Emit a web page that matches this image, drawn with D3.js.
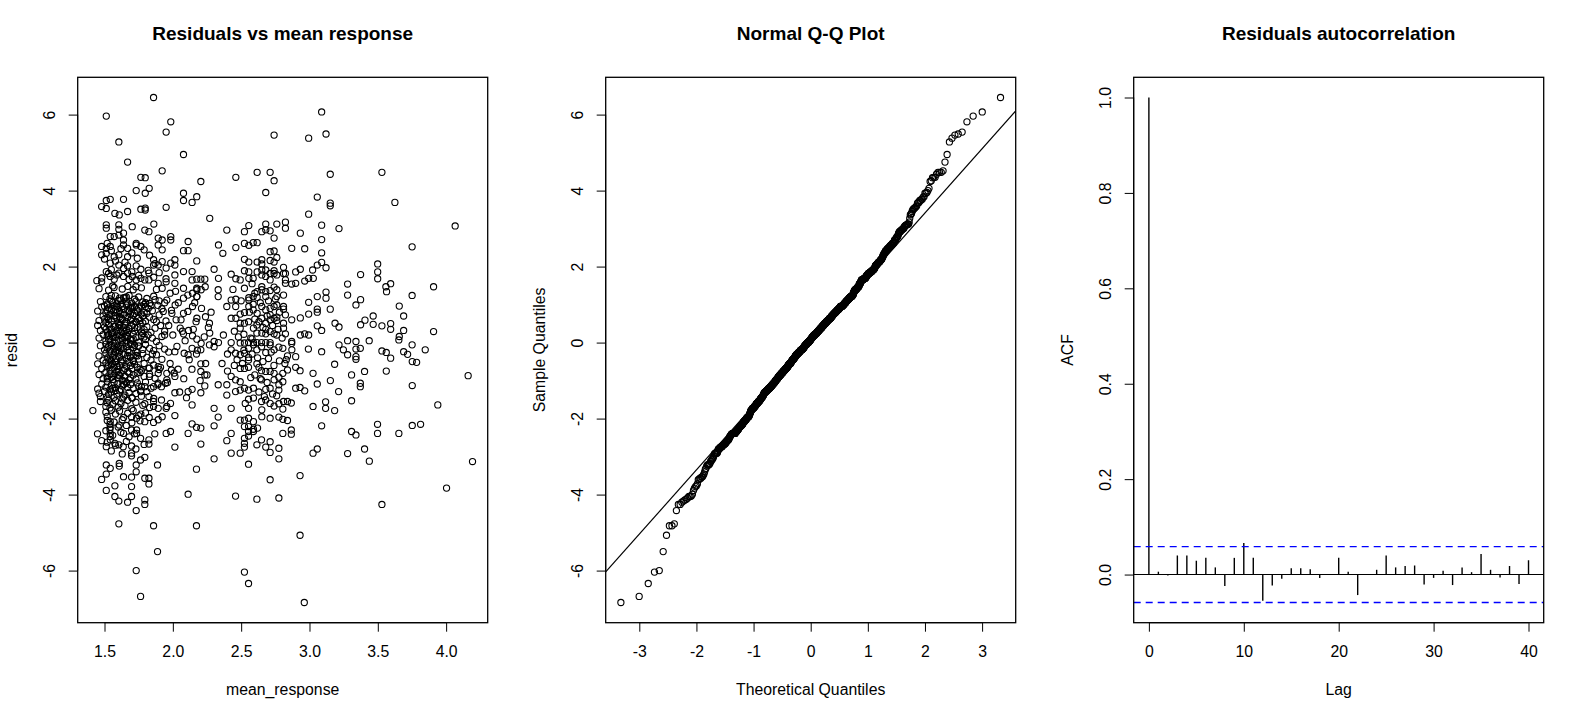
<!DOCTYPE html>
<html><head><meta charset="utf-8">
<script src="https://cdn.jsdelivr.net/npm/d3@7"></script>
<style>
body{margin:0;background:#fff}
svg{display:block}
text{font-family:"Liberation Sans",Arial,Helvetica,sans-serif;fill:#000}
</style>
</head><body>
<svg id="chart" width="1584" height="720"></svg>
<script>
// ---------------- DATA ----------------
// [mean_response, resid] pairs, read from the picture region by region
const ptsRightUpper = [[3.089,6.07],[2.994,5.38],[3.121,5.49],[3.152,4.43],[3.530,4.48],[3.057,3.83],[3.152,3.67],[3.152,3.60],[3.625,3.69],[2.994,3.38],
[3.089,3.09],[3.216,3.00],[4.066,3.07],[2.933,2.88],[3.089,2.71],[3.751,2.52],[2.870,2.48],[2.965,2.47],[3.089,2.36],[3.499,2.07],
[3.499,1.86],[3.499,1.68],[3.374,1.79],[3.089,2.11],[3.057,2.04],[3.121,1.97],[3.023,1.91],[2.994,1.69],[2.965,1.62],[2.899,1.86],
[2.933,1.93],[2.870,1.54],[2.899,1.56],[3.028,1.69],[3.279,1.54],[3.594,1.55],[3.559,1.47],[3.564,1.34],[3.908,1.47],[3.751,1.24],
[3.279,1.25],[3.374,1.13],[3.340,0.99],[3.121,1.33],[3.121,1.17],[3.057,1.21],[2.994,1.06],[3.152,0.88],[3.057,0.88],[3.057,0.80],
[2.994,0.75],[2.933,0.65],[2.870,0.60],[3.657,0.96],[3.689,0.70],[3.466,0.70],[3.466,0.48],[3.406,0.59],[3.374,0.47],[3.530,0.44],
[3.594,0.50],[3.594,0.35],[3.689,0.32],[3.657,0.16],[3.908,0.29],[3.187,0.51],[3.216,0.41],[3.089,0.32],[3.057,0.44],[2.994,0.20],
[2.965,0.23],[2.933,0.20],[2.870,0.03],[3.279,0.05],[3.340,0.03],[3.437,0.05],[3.216,-0.06],[3.751,-0.06]];

const ptsRightLower = [[2.870,-0.02],[3.654,0.07],[3.248,-0.19],[3.279,-0.32],[3.340,-0.17],[3.372,-0.15],[3.340,-0.37],[3.340,-0.44],[2.992,-0.17],[3.089,-0.24],
[3.530,-0.22],[3.562,-0.26],[3.594,-0.41],[3.689,-0.24],[3.718,-0.31],[3.752,-0.50],[3.784,-0.52],[3.847,-0.19],[4.161,-0.87],[3.562,-0.75],
[3.752,-1.13],[3.403,-0.76],[3.308,-0.85],[3.372,-1.07],[3.372,-1.16],[3.184,-0.57],[3.153,-1.00],[3.213,-1.29],[3.026,-0.81],[3.057,-1.09],
[2.965,-1.27],[2.931,-1.18],[2.899,-1.20],[2.899,-0.37],[2.931,-0.74],[2.899,-0.65],[3.308,-1.53],[3.118,-1.56],[3.118,-1.73],[3.184,-1.79],
[3.026,-1.68],[3.939,-1.64],[2.867,-1.59],[3.089,-2.19],[3.498,-2.15],[3.498,-2.39],[3.308,-2.34],[3.340,-2.43],[3.654,-2.39],[3.752,-2.18],
[3.813,-2.15],[2.867,-2.30],[2.867,-2.41],[3.057,-2.80],[3.026,-2.91],[3.279,-2.92],[3.403,-2.80],[3.438,-3.12],[4.193,-3.13],[2.931,-3.50],
[4.003,-3.83],[3.530,-4.26],[2.931,-5.07],[2.962,-6.84]];

const ptsMidUpper = [[2.461,4.35],[2.617,4.48],[2.712,4.48],[2.741,4.26],[2.741,5.46],[2.680,3.95],[2.761,3.12],[2.824,3.17],[2.824,3.01],[2.680,3.12],
[2.556,3.08],[2.524,2.92],[2.712,2.94],[2.680,2.97],[2.651,2.92],[2.741,2.75],[2.395,2.96],[2.334,2.57],[2.366,2.35],[2.461,2.50],
[2.524,2.61],[2.556,2.56],[2.588,2.63],[2.617,2.63],[2.712,2.39],[2.741,2.41],[2.761,2.24],[2.524,2.19],[2.556,2.12],[2.617,2.12],
[2.651,2.18],[2.651,2.07],[2.712,2.16],[2.741,2.12],[2.810,1.98],[2.302,1.93],[2.334,1.69],[2.427,1.80],[2.461,1.68],[2.493,1.65],
[2.524,1.89],[2.556,1.86],[2.556,1.69],[2.588,1.69],[2.617,1.86],[2.651,1.91],[2.651,1.78],[2.680,1.91],[2.680,1.74],[2.712,1.82],
[2.712,1.65],[2.741,1.89],[2.741,1.82],[2.761,1.78],[2.810,1.82],[2.824,1.82],[2.824,1.65],[2.824,1.56],[2.332,1.39],[2.332,1.21],
[2.395,0.95],[2.427,1.12],[2.461,1.14],[2.524,1.43],[2.556,1.18],[2.556,1.12],[2.588,1.21],[2.617,1.19],[2.617,1.34],[2.651,1.47],
[2.651,1.39],[2.680,1.34],[2.680,1.21],[2.712,1.37],[2.741,1.46],[2.761,1.39],[2.761,1.21],[2.810,1.25],[2.556,0.95],[2.588,1.01],
[2.588,0.86],[2.617,0.77],[2.651,0.95],[2.680,0.86],[2.712,0.90],[2.712,0.73],[2.741,0.95],[2.761,0.99],[2.810,0.95],[2.810,0.88],
[2.493,0.75],[2.524,0.79],[2.461,0.64],[2.427,0.64],[2.493,0.51],[2.493,0.38],[2.524,0.51],[2.554,0.55],[2.590,0.38],[2.615,0.46],
[2.651,0.64],[2.680,0.51],[2.712,0.60],[2.741,0.64],[2.761,0.58],[2.761,0.67],[2.810,0.51],[2.824,0.73],[2.741,0.23],[2.761,0.20],
[2.824,0.23],[2.810,0.38],[2.615,0.25],[2.651,0.25],[2.680,0.23],[2.712,0.29],
[2.427,0.00],[2.493,-0.01],[2.524,-0.01],[2.554,0.00],[2.590,0.00],[2.615,0.00],[2.649,0.00],[2.680,0.00],[2.712,0.00],[2.302,0.03],[2.334,0.00]];

const ptsMidLower = [[2.427,-0.19],[2.459,-0.28],[2.493,-0.32],[2.524,-0.28],[2.554,-0.15],[2.590,-0.06],[2.615,-0.19],[2.649,-0.11],[2.680,-0.26],[2.712,-0.06],
[2.741,-0.19],[2.776,-0.12],[2.805,-0.15],[2.839,-0.35],[2.871,-0.19],
[2.554,-0.39],[2.554,-0.46],[2.524,-0.68],[2.554,-0.65],[2.493,-0.68],
[2.615,-0.56],[2.649,-0.74],[2.680,-0.76],[2.712,-0.76],[2.741,-0.81],[2.776,-0.91],[2.805,-0.81],[2.839,-0.72],
[2.427,-0.89],[2.459,-0.98],[2.493,-1.03],[2.524,-1.20],[2.554,-1.25],[2.590,-1.20],[2.649,-0.98],[2.680,-1.23],[2.712,-1.20],[2.741,-0.98],[2.776,-1.11],[2.776,-1.25],[2.805,-1.03],
[2.332,-1.11],[2.395,-1.11],[2.395,-1.38],[2.459,-1.29],[2.493,-1.25],
[2.554,-1.49],[2.590,-1.46],[2.649,-1.55],[2.680,-1.51],[2.712,-1.60],[2.741,-1.67],[2.776,-1.61],[2.810,-1.55],[2.839,-1.55],
[2.427,-1.73],[2.554,-1.73],[2.651,-1.77],[2.651,-1.95],[2.712,-1.99],[2.776,-1.96],[2.805,-1.75],[2.805,-2.02],[2.839,-2.05],
[2.493,-2.04],[2.524,-2.04],[2.554,-1.99],[2.554,-2.21],[2.590,-2.08],[2.590,-2.28],[2.524,-2.21],[2.620,-2.25],[2.554,-2.34],
[2.302,-2.19],[2.302,-1.73],[2.332,-1.96],[2.427,-2.39],[2.395,-2.58],
[2.524,-2.52],[2.524,-2.65],[2.524,-2.75],[2.554,-2.46],[2.590,-2.34],
[2.649,-2.56],[2.680,-2.75],[2.712,-2.61],[2.712,-2.89],[2.776,-2.78],[2.805,-2.39],
[2.427,-2.91],[2.493,-2.91],[2.615,-2.69],[2.302,-3.06],[2.554,-3.20],[2.776,-3.06],[2.712,-3.61],
[2.459,-4.04],[2.615,-4.12],[2.776,-4.09],[2.524,-6.04],[2.554,-6.34]];

const ptsMidFill = [[2.45,0.30],[2.48,0.15],[2.52,0.22],[2.57,0.12],[2.60,0.62],[2.63,0.55],[2.66,0.40],[2.69,0.70],[2.73,0.45],[2.77,0.35],
[2.80,0.12],[2.56,0.80],[2.64,1.05],[2.70,1.10],[2.75,1.15],[2.60,1.30],[2.47,-0.45],[2.51,-0.55],[2.58,-0.30],[2.62,-0.40],
[2.66,-0.50],[2.70,-0.42],[2.74,-0.60],[2.78,-0.48],[2.82,-0.55],[2.60,-0.85],[2.64,-0.95],[2.69,-1.05],[2.73,-1.35],[2.63,-1.30],
[2.57,-0.92],[2.45,-0.60],[2.40,-0.30],[2.37,0.20],[2.44,1.40],[2.50,1.10],[2.58,1.55],[2.67,-1.42],[2.76,-1.40],[2.53,-1.60]];

const ptsLeftUpper = [[1.859,6.45],[1.513,5.96],[1.985,5.81],[1.951,5.54],[1.605,5.28],[1.669,4.75],[2.078,4.95],[1.922,4.52],[2.205,4.24],[1.766,4.35],
[1.798,4.34],[1.827,4.06],[1.798,3.93],[1.732,4.00],[1.542,3.77],[1.513,3.74],[1.639,3.77],[1.479,3.58],[1.513,3.53],[1.669,3.45],
[1.576,3.40],[1.608,3.36],[1.766,3.51],[1.798,3.54],[1.798,3.49],[1.951,3.56],[2.078,3.93],[2.078,3.74],[2.141,3.69],[2.175,3.84],[2.270,3.27],
[1.513,3.10],[1.513,3.01],[1.605,3.10],[1.605,2.98],[1.703,3.05],[1.861,3.12],[1.825,2.92],[1.795,2.96],
[1.639,2.88],[1.542,2.79],[1.571,2.79],[1.605,2.83],[1.639,2.70],
[1.479,2.53],[1.542,2.53],[1.513,2.48],[1.639,2.57],[1.669,2.48],[1.732,2.61],[1.766,2.53],[1.732,2.57],
[1.893,2.75],[1.922,2.70],[1.985,2.79],[1.985,2.70],[1.893,2.57],[1.922,2.44],
[2.112,2.66],[2.078,2.42],[2.112,2.42],[2.175,2.15],
[1.479,2.31],[1.513,2.35],[1.571,2.26],[1.605,2.31],[1.669,2.26],
[1.542,2.09],[1.605,2.04],[1.669,2.02],[1.732,2.02],[1.766,1.93],
[1.859,2.18],[1.922,2.13],[1.893,2.04],[1.951,1.96],[2.015,2.18],[2.015,2.04],[1.985,2.09],[1.859,2.04],
[2.078,1.87],[2.141,1.87],[2.175,1.67],[2.205,1.67],[2.234,1.67],
[1.444,1.63],[1.479,1.60],[1.513,1.87],[1.542,1.74],[1.571,1.67],[1.605,1.83],[1.639,1.74],[1.669,1.83],[1.703,1.74],[1.732,1.65],
[1.766,1.69],[1.795,1.65],[1.825,1.65],[1.825,1.83],[1.893,1.56],[1.951,1.60],[1.922,1.43],
[2.015,1.78],[2.015,1.56],[2.141,1.65],[2.175,1.43],[2.175,1.21],[2.078,1.43],[2.078,1.17],
[2.176,1.39],[2.176,1.21],[2.207,1.39],[2.237,1.47],[2.144,1.30],[2.110,0.82],[2.144,0.95],[2.078,0.77],[2.176,0.64],[2.239,0.68],
[2.268,0.51],[2.054,0.38],[2.078,0.23],[2.115,0.32],[2.144,0.18],[2.176,0.09],[2.207,-0.02],[2.024,0.60],[1.993,0.77],[2.017,0.99],
[1.956,1.12],[1.980,1.30]];

const ptsLeftLower = [[1.415,-1.79],[1.449,-2.40],
[1.479,-2.58],[1.513,-2.74],[1.542,-2.56],[1.576,-2.65],[1.605,-2.69],[1.637,-2.74],[1.698,-2.72],[1.698,-2.91],[1.698,-2.98],
[1.513,-3.22],[1.542,-3.31],[1.608,-3.18],[1.608,-3.25],[1.479,-3.60],[1.513,-3.46],[1.576,-3.77],[1.639,-3.53],[1.698,-3.54],[1.698,-3.79],
[1.732,-3.22],[1.764,-3.09],[1.795,-3.02],[1.732,-3.40],[1.825,-3.57],[1.825,-3.72],[1.795,-3.57],
[1.513,-3.89],[1.576,-4.05],[1.605,-4.17],[1.669,-4.20],[1.698,-4.05],[1.732,-4.42],[1.795,-4.14],[1.795,-4.26],
[1.605,-4.77],[1.859,-4.82],[2.173,-4.82],[1.888,-5.50],[1.732,-6.00],[1.764,-6.68],
[2.112,-3.99],[2.173,-3.33],[1.888,-3.22],[2.015,-2.75],[2.205,-2.67],
[1.868,-2.40],[1.951,-2.39],[1.983,-2.34],[2.112,-2.39],[2.141,-2.14],[2.173,-2.23],[2.205,-2.25],
[2.015,-1.92],[1.951,-1.73],[1.983,-1.60],[1.922,-1.95],[1.893,-2.03],[1.859,-2.10],[1.859,-1.68],[1.827,-1.97],[1.795,-2.08],[1.766,-1.88],[1.735,-1.99],[1.698,-1.96],
[1.825,-2.56],[1.825,-2.67],[1.764,-2.52],[1.698,-2.30],[1.735,-2.39],[1.735,-2.30],[1.639,-2.39],[1.608,-2.17],[1.542,-2.08],[1.542,-2.23],[1.542,-2.39],[1.542,-2.47],
[2.141,-1.64],[2.112,-1.29],[2.141,-1.23],[2.205,-1.32],[2.015,-1.32],[1.893,-1.73],[1.956,-1.68],[1.917,-1.51],[1.859,-1.55],[1.795,-1.61],[1.825,-1.42],[1.766,-1.25],[1.703,-1.46],
[2.205,-0.76],[2.205,-0.56],[2.234,-0.85],[2.234,-1.14],[2.173,-0.30],[2.205,-0.19],[2.141,-0.15],[2.112,-0.32],[2.015,-0.24],[2.083,-0.28],
[1.990,-0.72],[2.015,-0.89],[2.039,-0.70],[1.956,-0.81],[1.956,-0.98],[1.893,-0.63],[1.893,-0.81],[1.893,-1.07],[1.829,-0.67],[1.829,-0.89],
[1.795,-1.16],[1.764,-1.29],[1.859,-1.16],[1.917,-1.16],[1.946,-1.07],[2.268,-0.06],[2.302,-0.11]];

const ptsInnerFill = [[1.97,0.45],[2.00,0.20],[2.03,-0.10],[2.06,0.60],[2.09,0.05],[2.12,-0.45],[2.15,0.35],[2.18,-0.20],[2.21,0.90],[2.24,-0.55],
[2.27,0.25],[1.98,-0.55],[2.01,-0.80],[2.04,1.05],[2.08,-0.95],[2.11,1.25],[2.14,-0.70],[2.17,0.55],[2.20,-1.00],[2.23,0.15],
[1.96,-1.05],[1.99,0.85],[2.02,1.35],[2.05,-1.30],[2.10,-1.45],[2.16,1.05],[2.25,-0.85],[2.28,0.80],[1.97,-0.25],[2.07,0.30]];

const ptsDenseCore = [
[1.46,1.42],[1.50,0.96],[1.53,1.38],[1.55,0.88],[1.57,1.45],[1.59,1.02],[1.61,0.83],[1.63,1.41],[1.65,1.18],[1.67,1.48],[1.69,0.92],[1.71,1.39],[1.74,0.81],[1.77,1.44],[1.80,1.05],[1.84,0.97],[1.88,1.40],[1.92,0.89],[1.56,1.49],[1.62,1.12],[1.68,0.84],[1.73,1.47],[1.79,1.00],
[1.47,1.08],[1.51,1.21],[1.52,1.02],[1.54,1.15],[1.56,1.06],[1.58,1.23],[1.60,1.11],[1.62,1.01],[1.64,1.18],[1.66,1.09],[1.68,1.24],[1.70,1.04],[1.72,1.14],[1.75,1.20],[1.78,1.07],[1.81,1.16],[1.83,1.03],[1.86,1.22],[1.90,1.10],[1.94,1.05],[1.55,1.24],[1.61,1.17],[1.67,1.02],[1.73,1.09],[1.87,1.13],
[1.45,0.83],[1.48,0.94],[1.51,0.78],[1.53,0.91],[1.55,0.85],[1.57,0.97],[1.59,0.80],[1.60,0.92],[1.62,0.76],[1.64,0.88],[1.66,0.99],[1.68,0.81],[1.70,0.93],[1.72,0.77],[1.74,0.86],[1.77,0.96],[1.79,0.79],[1.82,0.90],[1.85,0.84],[1.89,0.98],[1.93,0.82],[1.52,0.99],[1.58,0.87],[1.63,0.95],[1.69,0.75],[1.75,0.91],[1.81,0.77],
[1.46,0.58],[1.49,0.70],[1.51,0.53],[1.52,0.66],[1.54,0.74],[1.55,0.57],[1.57,0.63],[1.58,0.71],[1.60,0.52],[1.61,0.68],[1.63,0.60],[1.64,0.73],[1.66,0.55],[1.67,0.66],[1.69,0.59],[1.71,0.72],[1.73,0.54],[1.75,0.64],[1.78,0.70],[1.80,0.56],[1.83,0.67],[1.86,0.61],[1.90,0.73],[1.95,0.57],[1.53,0.61],[1.59,0.65],[1.65,0.51],[1.70,0.62],[1.76,0.58],
[1.45,0.45],[1.47,0.32],[1.50,0.41],[1.52,0.28],[1.53,0.47],[1.55,0.36],[1.56,0.26],[1.58,0.43],[1.59,0.33],[1.61,0.48],[1.62,0.29],[1.64,0.39],[1.65,0.46],[1.67,0.27],[1.68,0.37],[1.70,0.44],[1.72,0.31],[1.74,0.40],[1.76,0.49],[1.79,0.34],[1.81,0.42],[1.84,0.27],[1.87,0.38],[1.91,0.45],[1.94,0.30],[1.54,0.35],[1.60,0.40],[1.66,0.33],[1.71,0.49],[1.77,0.28],
[1.46,0.12],[1.49,0.21],[1.51,0.05],[1.52,0.17],[1.54,0.10],[1.55,0.23],[1.57,0.02],[1.58,0.14],[1.60,0.07],[1.61,0.19],[1.63,0.11],[1.64,0.24],[1.66,0.04],[1.67,0.16],[1.69,0.09],[1.71,0.22],[1.73,0.13],[1.75,0.01],[1.77,0.18],[1.80,0.08],[1.82,0.20],[1.85,0.12],[1.88,0.03],[1.92,0.16],[1.53,0.08],[1.59,0.20],[1.65,0.13],[1.70,0.06],[1.78,0.24],[1.56,0.15],
[1.47,-0.08],[1.50,-0.19],[1.51,-0.04],[1.52,-0.14],[1.54,-0.22],[1.55,-0.07],[1.57,-0.17],[1.58,-0.02],[1.60,-0.12],[1.61,-0.24],[1.63,-0.06],[1.64,-0.16],[1.66,-0.10],[1.67,-0.21],[1.69,-0.03],[1.71,-0.13],[1.73,-0.23],[1.75,-0.09],[1.78,-0.18],[1.80,-0.05],[1.83,-0.15],[1.86,-0.21],[1.90,-0.08],[1.94,-0.17],[1.53,-0.11],[1.59,-0.20],[1.65,-0.01],[1.72,-0.07],[1.57,-0.09],
[1.46,-0.35],[1.49,-0.46],[1.51,-0.28],[1.52,-0.40],[1.54,-0.33],[1.55,-0.48],[1.57,-0.30],[1.58,-0.42],[1.60,-0.27],[1.61,-0.37],[1.63,-0.45],[1.64,-0.31],[1.66,-0.41],[1.68,-0.26],[1.69,-0.38],[1.71,-0.47],[1.73,-0.34],[1.75,-0.43],[1.78,-0.29],[1.81,-0.39],[1.84,-0.46],[1.88,-0.32],[1.92,-0.44],[1.56,-0.38],[1.62,-0.49],[1.67,-0.34],[1.74,-0.26],
[1.45,-0.56],[1.48,-0.68],[1.51,-0.53],[1.52,-0.64],[1.54,-0.72],[1.55,-0.58],[1.57,-0.66],[1.58,-0.51],[1.60,-0.70],[1.61,-0.60],[1.63,-0.54],[1.64,-0.73],[1.66,-0.62],[1.68,-0.52],[1.70,-0.69],[1.72,-0.57],[1.74,-0.65],[1.77,-0.74],[1.79,-0.55],[1.82,-0.67],[1.86,-0.59],[1.90,-0.71],[1.53,-0.60],[1.59,-0.63],[1.65,-0.69],[1.71,-0.50],
[1.46,-0.84],[1.49,-0.95],[1.51,-0.78],[1.52,-0.90],[1.54,-0.82],[1.56,-0.97],[1.57,-0.86],[1.59,-0.76],[1.60,-0.93],[1.62,-0.81],[1.63,-0.99],[1.65,-0.88],[1.67,-0.77],[1.69,-0.92],[1.71,-0.85],[1.73,-0.96],[1.76,-0.79],[1.79,-0.89],[1.83,-0.83],[1.87,-0.94],[1.55,-0.91],[1.61,-0.87],[1.68,-0.98],[1.74,-0.80],
[1.45,-1.22],[1.48,-1.09],[1.51,-1.17],[1.52,-1.03],[1.54,-1.24],[1.55,-1.12],[1.57,-1.05],[1.58,-1.19],[1.60,-1.08],[1.62,-1.23],[1.63,-1.14],[1.65,-1.02],[1.67,-1.18],[1.69,-1.10],[1.71,-1.21],[1.74,-1.06],[1.77,-1.16],[1.80,-1.04],[1.84,-1.20],[1.89,-1.11],[1.56,-1.20],[1.66,-1.07],
[1.46,-1.33],[1.47,-1.42],[1.50,-1.28],[1.52,-1.46],[1.53,-1.36],[1.55,-1.30],[1.57,-1.44],[1.59,-1.35],[1.61,-1.27],[1.63,-1.48],[1.65,-1.38],[1.68,-1.31],[1.70,-1.45],[1.73,-1.34],[1.77,-1.41],[1.81,-1.29],[1.86,-1.47],[1.58,-1.26],[1.64,-1.43],
[1.47,-1.55],[1.51,-1.68],[1.52,-1.58],[1.54,-1.72],[1.56,-1.62],[1.58,-1.53],[1.60,-1.70],[1.62,-1.60],[1.65,-1.66],[1.67,-1.52],[1.70,-1.74],[1.73,-1.57],[1.78,-1.65],[1.83,-1.71],[1.53,-1.51],
[1.51,-1.83],[1.52,-1.94],[1.55,-1.78],[1.58,-1.88],[1.61,-1.80],[1.64,-1.97],[1.67,-1.86],[1.71,-1.79],[1.75,-1.92],[1.80,-1.85],
[1.52,-2.05],[1.54,-2.15],[1.57,-2.09],[1.60,-2.22],[1.63,-2.03],[1.66,-2.18],[1.70,-2.11],[1.76,-2.06],
[1.51,-2.32],[1.54,-2.28],[1.56,-2.44],[1.62,-2.36],[1.68,-2.48],[1.72,-2.40],
[1.52,-2.62],[1.55,-2.85],[1.58,-2.70],[1.63,-2.93],[1.66,-2.60],[1.73,-2.80],[1.79,-2.68],
[1.48,1.70],[1.52,0.86],[1.55,1.92],[1.57,0.42],[1.59,1.78],[1.62,0.64],[1.64,1.95],[1.66,0.18],[1.70,1.86],[1.72,0.95],[1.75,1.77],[1.78,0.52],[1.82,1.90],[1.86,1.72],[1.90,1.84],[1.95,1.68],[1.53,1.82],[1.68,1.66],
[1.50,2.20],[1.55,2.42],[1.58,2.15],[1.62,2.47],[1.65,2.12],[1.70,2.36],[1.74,2.22],[1.79,2.44],[1.83,2.30],[1.87,2.08],[1.52,2.61],
[1.50,0.62],[1.53,0.20],[1.56,-0.55],[1.59,0.95],[1.62,-0.15],[1.65,0.30],[1.68,-0.80],[1.71,0.10],[1.74,-0.35],[1.77,0.75],
[1.52,-0.95],[1.55,1.10],[1.58,-0.25],[1.61,0.45],[1.64,-1.10],[1.67,0.85],[1.70,-0.05],[1.73,0.55],[1.76,-0.70],[1.79,0.15],
[1.51,0.35],[1.54,-0.45],[1.57,0.70],[1.60,-0.85],[1.63,0.05],[1.66,1.20],[1.69,-0.60],[1.72,0.40],[1.75,-1.15],[1.80,0.95],
[1.85,-0.30],[1.88,0.55],[1.91,-0.65],[1.94,0.20],[2.26,0.40],[2.40,-0.75],[2.46,0.95],[2.52,-0.20],[2.58,0.10],[2.63,-0.65],
[2.68,0.35],[2.72,-0.25],[2.78,0.80],[2.83,-0.45],[2.36,-0.55]];

const scatterPoints = [].concat(ptsRightUpper, ptsRightLower, ptsMidUpper, ptsMidLower, ptsMidFill,
  ptsLeftUpper, ptsLeftLower, ptsInnerFill, ptsDenseCore);

// autocorrelation of residuals, lags 0..40
const acfLags = [0,1,2,3,4,5,6,7,8,9,10,11,12,13,14,15,16,17,18,19,20,21,22,23,24,25,26,27,28,29,30,31,32,33,34,35,36,37,38,39,40];
const acfValues = [1.000,0.006,-0.002,0.040,0.040,0.029,0.035,0.015,-0.024,0.035,0.066,0.035,-0.055,-0.023,-0.009,0.013,0.013,0.011,-0.007,-0.001,
  0.035,0.006,-0.043,-0.001,0.010,0.040,0.015,0.018,0.019,-0.021,-0.007,0.008,-0.022,0.015,0.005,0.043,0.010,-0.006,0.018,-0.020,0.030];

// tick values
const ticksMean = [1.5,2.0,2.5,3.0,3.5,4.0];
const ticksResid = [-6,-4,-2,0,2,4,6];
const ticksTheo = [-3,-2,-1,0,1,2,3];
const ticksLag = [0,10,20,30,40];
const ticksAcf = [0.0,0.2,0.4,0.6,0.8,1.0];

const titles = ["Residuals vs mean response","Normal Q-Q Plot","Residuals autocorrelation"];

// ---------------- HELPERS ----------------
function qnorm(p){
  const a=[-3.969683028665376e+01,2.209460984245205e+02,-2.759285104469687e+02,1.383577518672690e+02,-3.066479806614716e+01,2.506628277459239e+00];
  const b=[-5.447609879822406e+01,1.615858368580409e+02,-1.556989798598866e+02,6.680131188771972e+01,-1.328068155288572e+01];
  const c=[-7.784894002430293e-03,-3.223964580411365e-01,-2.400758277161838e+00,-2.549732539343734e+00,4.374664141464968e+00,2.938163982698783e+00];
  const d=[7.784695709041462e-03,3.224671290700398e-01,2.445134137142996e+00,3.754408661907416e+00];
  const pl=0.02425, ph=1-pl; let q,r;
  if(p<pl){q=Math.sqrt(-2*Math.log(p));return (((((c[0]*q+c[1])*q+c[2])*q+c[3])*q+c[4])*q+c[5])/((((d[0]*q+d[1])*q+d[2])*q+d[3])*q+1);}
  if(p<=ph){q=p-0.5;r=q*q;return (((((a[0]*r+a[1])*r+a[2])*r+a[3])*r+a[4])*r+a[5])*q/(((((b[0]*r+b[1])*r+b[2])*r+b[3])*r+b[4])*r+1);}
  q=Math.sqrt(-2*Math.log(1-p));return -(((((c[0]*q+c[1])*q+c[2])*q+c[3])*q+c[4])*q+c[5])/((((d[0]*q+d[1])*q+d[2])*q+d[3])*q+1);
}
const expand = ([lo,hi]) => { const e=(hi-lo)*0.04; return [lo-e, hi+e]; };

const W=1584, H=720, PW=528;
const M = {left:77.7, right:40.3, top:77.3, bottom:97.3};
const FS = 15.8;
const svg = d3.select("#chart");
svg.append("rect").attr("width",W).attr("height",H).attr("fill","#fff");

function box(i){ return {L:i*PW+M.left, R:(i+1)*PW-M.right, T:M.top, B:H-M.bottom}; }

function frame(i, p, x, y, xt, yt, xf, yf, xlab, ylab){
  const g = svg.append("g");
  const gx = g.append("g").attr("transform",`translate(0,${p.B})`)
    .call(d3.axisBottom(x).tickValues(xt).tickFormat(xf).tickSize(9).tickSizeOuter(0));
  gx.select(".domain").remove();
  gx.attr("font-family",null).attr("font-size",null);
  gx.selectAll(".tick line").attr("stroke","#000").attr("stroke-width",1);
  gx.selectAll(".tick text").attr("y",34.6).attr("dy",null).attr("fill","#000").style("font-size",FS+"px");
  const gy = g.append("g").attr("transform",`translate(${p.L},0)`)
    .call(d3.axisLeft(y).tickValues(yt).tickFormat(yf).tickSize(9).tickSizeOuter(0));
  gy.select(".domain").remove();
  gy.attr("font-family",null).attr("font-size",null);
  gy.selectAll(".tick line").attr("stroke","#000").attr("stroke-width",1);
  gy.selectAll(".tick text").attr("x",null).attr("y",null).attr("dy",null)
    .attr("text-anchor","middle").attr("transform","translate(-22.5,0) rotate(-90)")
    .attr("fill","#000").style("font-size",FS+"px");
  g.append("line").attr("x1",x(xt[0])).attr("x2",x(xt[xt.length-1])).attr("y1",p.B).attr("y2",p.B).attr("stroke","#000").attr("stroke-width",1);
  g.append("line").attr("y1",y(yt[0])).attr("y2",y(yt[yt.length-1])).attr("x1",p.L).attr("x2",p.L).attr("stroke","#000").attr("stroke-width",1);
  g.append("rect").attr("x",p.L).attr("y",p.T).attr("width",p.R-p.L).attr("height",p.B-p.T)
    .attr("fill","none").attr("stroke","#000").attr("stroke-width",1.3);
  g.append("text").attr("x",(p.L+p.R)/2).attr("y",39.5).attr("text-anchor","middle")
    .style("font-size","19px").style("font-weight","bold").text(titles[i]);
  g.append("text").attr("x",(p.L+p.R)/2).attr("y",694.5).attr("text-anchor","middle")
    .style("font-size",FS+"px").text(xlab);
  g.append("text").attr("transform",`translate(${p.L-60.7},${(p.T+p.B)/2}) rotate(-90)`)
    .attr("text-anchor","middle").style("font-size",FS+"px").text(ylab);
}
const intFmt = d => String(d);
const oneDec = d => d.toFixed(1);

// ---------------- PANEL 1: scatter ----------------
const means = scatterPoints.map(d=>d[0]);
const resid = scatterPoints.map(d=>d[1]);
const p1 = box(0);
const x1 = d3.scaleLinear().domain(expand(d3.extent(means))).range([p1.L,p1.R]);
const y1 = d3.scaleLinear().domain(expand(d3.extent(resid))).range([p1.B,p1.T]);
svg.append("g").selectAll("circle").data(scatterPoints).join("circle")
  .attr("cx",d=>x1(d[0])).attr("cy",d=>y1(d[1])).attr("r",3.1)
  .attr("fill","none").attr("stroke","#000").attr("stroke-width",1.1);
frame(0,p1,x1,y1,ticksMean,ticksResid,oneDec,intFmt,"mean_response","resid");

// ---------------- PANEL 2: normal QQ ----------------
const sorted = resid.slice().sort(d3.ascending);
const n = sorted.length;
const aP = n<=10 ? 3/8 : 0.5;
const qq = sorted.map((v,i)=>[qnorm((i+1-aP)/(n+1-2*aP)), v]);
const p2 = box(1);
const x2 = d3.scaleLinear().domain(expand(d3.extent(qq,d=>d[0]))).range([p2.L,p2.R]);
const y2 = d3.scaleLinear().domain(expand(d3.extent(sorted))).range([p2.B,p2.T]);
svg.append("defs").append("clipPath").attr("id","clip2").append("rect")
  .attr("x",p2.L).attr("y",p2.T).attr("width",p2.R-p2.L).attr("height",p2.B-p2.T);
svg.append("g").selectAll("circle").data(qq).join("circle")
  .attr("cx",d=>x2(d[0])).attr("cy",d=>y2(d[1])).attr("r",3.1)
  .attr("fill","none").attr("stroke","#000").attr("stroke-width",1.1);
const yq1 = d3.quantile(sorted,0.25), yq3 = d3.quantile(sorted,0.75);
const xq1 = qnorm(0.25), xq3 = qnorm(0.75);
const slope = (yq3-yq1)/(xq3-xq1), icpt = yq1 - slope*xq1;
const xd = x2.domain();
svg.append("line").attr("clip-path","url(#clip2)")
  .attr("x1",x2(xd[0])).attr("y1",y2(icpt+slope*xd[0]))
  .attr("x2",x2(xd[1])).attr("y2",y2(icpt+slope*xd[1]))
  .attr("stroke","#000").attr("stroke-width",1.2);
frame(1,p2,x2,y2,ticksTheo,ticksResid,intFmt,intFmt,"Theoretical Quantiles","Sample Quantiles");

// ---------------- PANEL 3: ACF ----------------
const ci = 1.96/Math.sqrt(n);
const p3 = box(2);
const x3 = d3.scaleLinear().domain(expand(d3.extent(acfLags))).range([p3.L,p3.R]);
const y3 = d3.scaleLinear().domain(expand([Math.min(-ci,d3.min(acfValues)), Math.max(ci,d3.max(acfValues))])).range([p3.B,p3.T]);
const g3 = svg.append("g");
g3.selectAll("line.spike").data(acfLags).join("line").attr("class","spike")
  .attr("x1",d=>x3(d)).attr("x2",d=>x3(d)).attr("y1",y3(0)).attr("y2",(d,i)=>y3(acfValues[i]))
  .attr("stroke","#000").attr("stroke-width",1.4);
g3.append("line").attr("x1",p3.L).attr("x2",p3.R).attr("y1",y3(0)).attr("y2",y3(0)).attr("stroke","#000").attr("stroke-width",1.1);
[ci,-ci].forEach(c=>{
  g3.append("line").attr("x1",p3.L).attr("x2",p3.R).attr("y1",y3(c)).attr("y2",y3(c))
    .attr("stroke","#0000ff").attr("stroke-width",1.3).attr("stroke-dasharray","7,5");
});
frame(2,p3,x3,y3,ticksLag,ticksAcf,intFmt,oneDec,"Lag","ACF");
</script>
</body></html>
